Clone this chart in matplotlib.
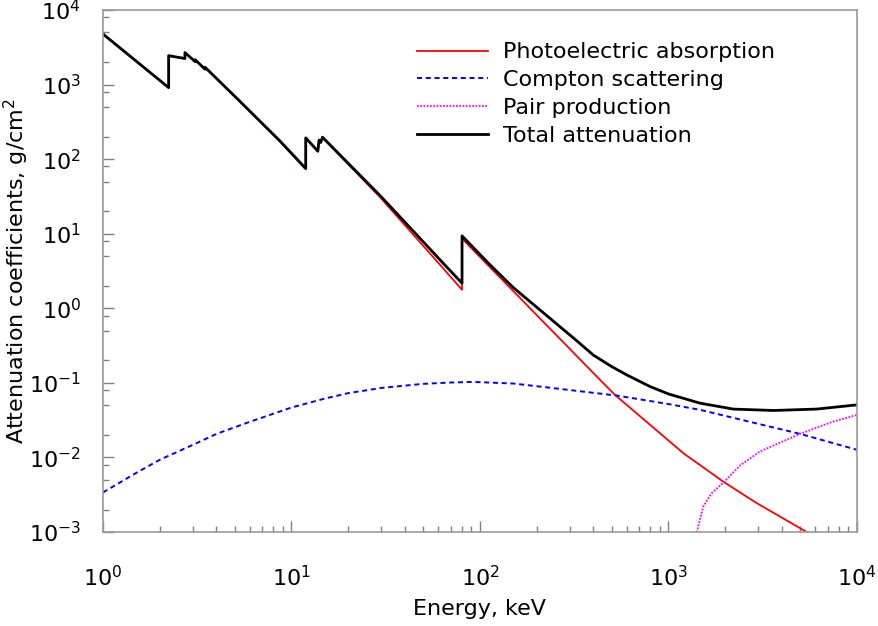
import numpy as np
import matplotlib
matplotlib.use("Agg")
import matplotlib.pyplot as plt
from matplotlib.ticker import LogLocator, NullFormatter

# Energía (keV) y coeficientes (cm2/g); energías repetidas = bordes de absorción
energia_foto = [1.0, 2.23, 2.23, 2.72, 2.72, 3.08, 3.08, 3.48, 3.48, 5.33, 8.69,
                11.9, 11.9, 13.8, 14.0, 14.3, 14.6, 29.5, 61.4, 80.3, 80.3,
                200, 433, 520, 798, 1199, 1968, 2938, 5409, 6000]
foto = [4760, 908, 2440, 2230, 2680, 2030, 2150, 1600, 1700, 590, 172,
        73, 190, 126, 177, 166, 194, 30.9, 3.82, 1.77, 8.6,
        0.81, 0.110, 0.069, 0.0274, 0.0114, 0.00467, 0.00244, 0.0010, 0.00085]

energia_total = [1.0, 2.23, 2.23, 2.72, 2.72, 3.08, 3.08, 3.48, 3.48, 5.33, 8.69,
                 11.9, 11.9, 13.8, 14.0, 14.3, 14.6, 29.5, 61.4, 80.3, 80.3,
                 110, 150, 208, 313, 400, 500, 600, 800, 1000, 1469, 2207, 3597,
                 6110, 10000]
total = [4760, 910, 2440, 2235, 2685, 2035, 2155, 1605, 1705, 595, 175,
         75, 193, 128, 180, 168, 197, 32.5, 4.46, 2.17, 9.35,
         4.1, 1.9, 0.95, 0.40, 0.235, 0.165, 0.128, 0.089, 0.071, 0.0534, 0.0445,
         0.0426, 0.0445, 0.0507]

energia_compton = [1.0, 1.5, 2.0, 3.0, 4.0, 6.0, 10, 15, 20, 30, 50, 70, 92, 150,
                   245, 531, 1000, 1469, 2706, 4986, 10000]
compton = [0.00339, 0.0062, 0.0093, 0.01476, 0.0207, 0.030, 0.0467, 0.0615, 0.0728,
           0.0855, 0.097, 0.101, 0.103, 0.098, 0.085, 0.0676, 0.052, 0.0435, 0.0300,
           0.0207, 0.01265]

energia_pares = [1380, 1413, 1530, 1694, 1968, 2395, 3055, 4986, 7480, 10000]
pares = [0.0006, 0.0010, 0.0022, 0.00332, 0.00467, 0.0078, 0.012, 0.0207, 0.0303,
         0.0372]

etiquetas = ["Photoelectric absorption", "Compton scattering",
             "Pair production", "Total attenuation"]

plt.rcParams['font.family'] = ['DejaVu Sans']

fig = plt.figure(figsize=(8.79, 6.26), dpi=100)
ax = fig.add_axes([103 / 879, 1 - 532 / 626, 754 / 879, 522 / 626])

ax.plot(energia_foto, foto, color='#ff0000', lw=1.3, label=etiquetas[0])
ax.plot(energia_compton, compton, color='#0000ff', lw=1.4, dashes=(2.6, 1.9),
        label=etiquetas[1])
ax.plot(energia_pares, pares, color='#ff00ff', lw=1.3, dashes=(1.0, 0.8),
        label=etiquetas[2])
ax.plot(energia_total, total, color='black', lw=2.0, label=etiquetas[3])

ax.set_xscale('log')
ax.set_yscale('log')
ax.set_xlim(1, 1e4)
ax.set_ylim(1e-3, 1e4)

ax.xaxis.set_major_locator(LogLocator(base=10, numticks=10))
ax.xaxis.set_minor_locator(LogLocator(base=10, subs=np.arange(2, 10), numticks=20))
ax.yaxis.set_major_locator(LogLocator(base=10, numticks=10))
ax.yaxis.set_minor_locator(LogLocator(base=10, subs=[2, 5, 8], numticks=20))
ax.xaxis.set_minor_formatter(NullFormatter())
ax.yaxis.set_minor_formatter(NullFormatter())

ax.tick_params(which='both', direction='in', color='#808080', width=1,
               top=False, right=False, labelsize=16)
ax.tick_params(which='major', length=8)
ax.tick_params(which='minor', length=4.5)
ax.tick_params(axis='x', pad=24)
ax.tick_params(axis='y', pad=16)

for lado in ax.spines.values():
    lado.set_color('#999999')
    lado.set_linewidth(1.2)

ax.set_xlabel('Energy, keV', fontsize=16, labelpad=6)
ax.set_ylabel('Attenuation coefficients, g/cm$^2$', fontsize=16)
ax.yaxis.set_label_coords(-0.096, 0.5)

ax.legend(loc='upper left', bbox_to_anchor=(0.4164, 0.938), frameon=False,
          fontsize=16, handlelength=3.2, handletextpad=0.68, labelspacing=0.35,
          borderpad=0, borderaxespad=0)

plt.savefig('out.png', dpi=100)
